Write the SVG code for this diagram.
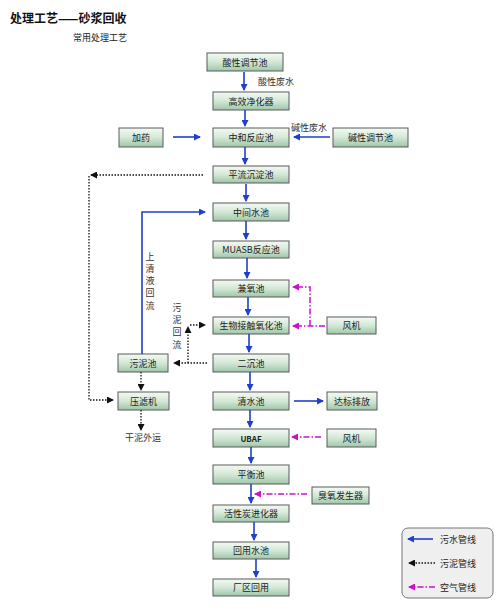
<svg xmlns="http://www.w3.org/2000/svg" width="501" height="611" viewBox="0 0 501 611">
<defs>
<linearGradient id="g" x1="0" y1="0" x2="0" y2="1">
<stop offset="0" stop-color="#f4faf4"/>
<stop offset="0.5" stop-color="#d3e8d6"/>
<stop offset="1" stop-color="#9fc6a8"/>
</linearGradient>
<marker id="ab" markerWidth="7" markerHeight="7" refX="6" refY="3.5" orient="auto" markerUnits="userSpaceOnUse"><path d="M0,0 L7,3.5 L0,7 Z" fill="#1f3fcf"/></marker>
<marker id="ak" markerWidth="7" markerHeight="7" refX="6" refY="3.5" orient="auto" markerUnits="userSpaceOnUse"><path d="M0,0 L7,3.5 L0,7 Z" fill="#111"/></marker>
<marker id="am" markerWidth="7" markerHeight="7" refX="6" refY="3.5" orient="auto" markerUnits="userSpaceOnUse"><path d="M0,0 L7,3.5 L0,7 Z" fill="#cc10cc"/></marker>
</defs>
<style>
text{font-family:"Noto Sans CJK SC","Noto Sans",sans-serif;fill:#222}
.box rect{fill:url(#g);stroke:#5a5a5a;stroke-width:1}
.box text{font-size:9px;text-anchor:middle;dominant-baseline:central}
.lbl{font-size:9px;text-anchor:middle;dominant-baseline:central;fill:#333}
.w{fill:none;stroke:#1f3fcf;stroke-width:1.6;marker-end:url(#ab)}
.s{fill:none;stroke:#111;stroke-width:1.3;stroke-dasharray:1.5 1.5;marker-end:url(#ak)}
.a{fill:none;stroke:#cc10cc;stroke-width:1.5;stroke-dasharray:6 2 1.5 2;marker-end:url(#am)}
</style>
<rect width="501" height="611" fill="#fff"/>
<text x="10" y="17" font-size="12" font-weight="bold" dominant-baseline="central" style="fill:#111">处理工艺——砂浆回收</text>
<text x="73" y="37" font-size="9" dominant-baseline="central">常用处理工艺</text>

<g id="n1" class="box"><rect x="207" y="53" width="76" height="18"/><text x="245" y="62">酸性调节池</text></g>
<g id="n2" class="box"><rect x="213" y="92" width="76" height="18"/><text x="251" y="101">高效净化器</text></g>
<g id="n3" class="box"><rect x="213" y="128" width="76" height="19"/><text x="251" y="137.5">中和反应池</text></g>
<g id="n4" class="box"><rect x="119" y="128" width="44" height="19"/><text x="141" y="137.5">加药</text></g>
<g id="n5" class="box"><rect x="333" y="128" width="75" height="19"/><text x="370.5" y="137.5">碱性调节池</text></g>
<g id="n6" class="box"><rect x="213" y="166" width="76" height="17"/><text x="251" y="174.5">平流沉淀池</text></g>
<g id="n7" class="box"><rect x="213" y="203" width="76" height="18"/><text x="251" y="212">中间水池</text></g>
<g id="n8" class="box"><rect x="213" y="241" width="76" height="17"/><text x="251" y="249.5">MUASB反应池</text></g>
<g id="n9" class="box"><rect x="213" y="280" width="76" height="17"/><text x="251" y="288.5">兼氧池</text></g>
<g id="n10" class="box"><rect x="213" y="317" width="76" height="17"/><text x="251" y="325.5">生物接触氧化池</text></g>
<g id="n11" class="box"><rect x="327" y="317" width="49" height="17"/><text x="351.5" y="325.5">风机</text></g>
<g id="n12" class="box"><rect x="213" y="354" width="76" height="18"/><text x="251" y="363">二沉池</text></g>
<g id="n13" class="box"><rect x="118" y="354" width="50" height="18"/><text x="143" y="363">污泥池</text></g>
<g id="n14" class="box"><rect x="118" y="392" width="51" height="18"/><text x="143.5" y="401">压滤机</text></g>
<g id="n15" class="box"><rect x="213" y="392" width="76" height="18"/><text x="251" y="401">清水池</text></g>
<g id="n16" class="box"><rect x="327" y="392" width="50" height="18"/><text x="352" y="401">达标排放</text></g>
<g id="n17" class="box"><rect x="213" y="429" width="76" height="18"/><text x="251" y="438" font-weight="bold" style="font-size:8px">UBAF</text></g>
<g id="n18" class="box"><rect x="327" y="429" width="49" height="18"/><text x="351.5" y="438">风机</text></g>
<g id="n19" class="box"><rect x="213" y="465" width="76" height="19"/><text x="251" y="474.5">平衡池</text></g>
<g id="n20" class="box"><rect x="312" y="487" width="57" height="17"/><text x="340.5" y="495.5">臭氧发生器</text></g>
<g id="n21" class="box"><rect x="213" y="505" width="76" height="17"/><text x="251" y="513.5">活性炭进化器</text></g>
<g id="n22" class="box"><rect x="213" y="542" width="76" height="17"/><text x="251" y="550.5">回用水池</text></g>
<g id="n23" class="box"><rect x="213" y="579" width="76" height="17"/><text x="251" y="587.5">厂区回用</text></g>

<g id="connectors">
<path class="w" d="M244,72 V90"/>
<path class="w" d="M245,110 V126"/>
<path class="w" d="M173,137 H200"/>
<path class="w" d="M330,137 H294"/>
<path class="w" d="M245,147 V164"/>
<path class="w" d="M246,184 V201"/>
<path class="w" d="M246,221 V239"/>
<path class="w" d="M247,258 V278"/>
<path class="w" d="M248,297 V315"/>
<path class="w" d="M249,334 V352"/>
<path class="w" d="M250,372 V390"/>
<path class="w" d="M250,410 V427"/>
<path class="w" d="M251,447 V463"/>
<path class="w" d="M251,484 V503"/>
<path class="w" d="M254,522 V540"/>
<path class="w" d="M256,559 V577"/>
<path class="w" d="M294,401 H323"/>
<path class="w" d="M142,354 V212 H205"/>

<path class="s" d="M203,175 H91"/>
<path class="s" d="M89,176 V400 H113"/>
<path class="s" d="M207,363 H174"/>
<path class="s" d="M188,363 V327"/>
<path class="s" d="M190,325 H205"/>
<path class="s" d="M141,372 V390"/>
<path class="s" d="M141,410 V430"/>

<path class="a" d="M325,326 H293"/>
<path class="a" d="M310,326 V287 H293"/>
<path class="a" d="M321,437 H292"/>
<path class="a" d="M307,494 H255"/>
</g>

<text class="lbl" x="276" y="81">酸性废水</text>
<text class="lbl" x="309" y="127">碱性废水</text>
<text class="lbl" x="143" y="437">干泥外运</text>
<g class="lbl">
<text class="lbl" x="150" y="256">上</text>
<text class="lbl" x="150" y="268">清</text>
<text class="lbl" x="150" y="280">液</text>
<text class="lbl" x="150" y="292">回</text>
<text class="lbl" x="150" y="305">流</text>
<text class="lbl" x="177" y="307">污</text>
<text class="lbl" x="177" y="319">泥</text>
<text class="lbl" x="177" y="331">回</text>
<text class="lbl" x="177" y="344">流</text>
</g>

<g id="legend">
<rect x="402" y="528" width="91" height="70" rx="6" fill="#efefef" stroke="#777" stroke-width="1"/>
<path class="w" d="M433,539 H408"/>
<path class="s" d="M435,563 H409"/>
<path class="a" d="M435,587 H409"/>
<text x="440" y="539" font-size="9" dominant-baseline="central">污水管线</text>
<text x="440" y="563" font-size="9" dominant-baseline="central">污泥管线</text>
<text x="440" y="587" font-size="9" dominant-baseline="central">空气管线</text>
</g>
</svg>
